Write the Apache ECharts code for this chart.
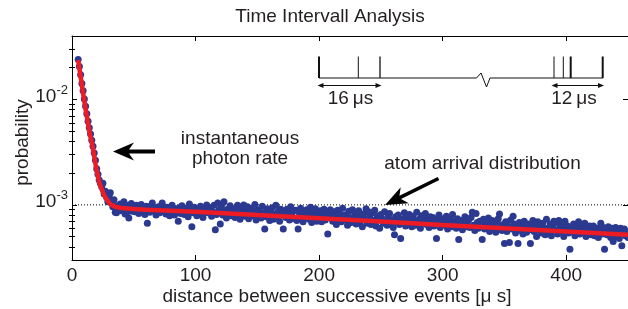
<!DOCTYPE html>
<html><head><meta charset="utf-8">
<script src="https://cdn.jsdelivr.net/npm/echarts@6/dist/echarts.min.js"></script>
<style>html,body{margin:0;padding:0;background:#fff}#c{width:628px;height:309px}</style>
</head><body><div id="c"></div>
<script>
// ---- data ----
const xRange = [0, 450];
const xTickValues = [0, 100, 200, 300, 400];
const yTickValues = [1e-3, 1e-2];
const yMinorTickValues = [4e-4, 5e-4, 6e-4, 7e-4, 8e-4, 9e-4, 2e-3, 3e-3, 4e-3, 5e-3, 6e-3, 7e-3, 8e-3, 9e-3, 2e-2, 3e-2];
const referenceLevel = [1e-3];
const binStartUs = 5;   // first histogram bin (µs); bins are 1 µs wide
const eventProbability = [
  2.40e-2, 2.05e-2, 1.72e-2, 1.42e-2, 1.21e-2, 1.01e-2, 8.6e-3, 7.3e-3, 6.2e-3, 5.4e-3,
  4.7e-3, 4.1e-3, 3.6e-3, 3.1e-3, 2.65e-3, 2.2e-3, 1.95e-3, 1.72e-3, 1.60e-3, 1.49e-3,
  1.60e-3, 1.27e-3, 1.35e-3, 1.18e-3, 1.07e-3, 1.20e-3, 1.30e-3, 1.04e-3, 9.6e-4, 1.12e-3,
  8.5e-4, 8.4e-4, 9.8e-4, 9.0e-4, 1.02e-3, 8.8e-4, 9.4e-4, 1.07e-3, 8.2e-4, 9.9e-4,
  8.6e-4, 7.5e-4, 9.2e-4, 1.03e-3, 8.7e-4, 9.5e-4,
  8.6e-4, 9.9e-4, 9.1e-4, 8.3e-4, 9.6e-4, 1.01e-3, 8.9e-4, 9.3e-4, 8.1e-4, 9.7e-4,
  6.7e-4, 9.2e-4, 8.5e-4, 9.8e-4, 1.04e-3, 8.8e-4, 9.4e-4, 8.0e-4, 9.0e-4, 9.6e-4,
  8.4e-4, 9.7e-4, 1.04e-3, 8.7e-4, 9.1e-4, 8.2e-4, 9.5e-4, 8.9e-4, 7.9e-4, 9.3e-4,
  9.9e-4, 8.5e-4, 8.0e-4, 9.2e-4, 8.7e-4, 7.0e-4, 9.4e-4, 8.3e-4, 9.8e-4, 8.6e-4,
  8.1e-4, 9.3e-4, 8.8e-4, 7.7e-4, 1.02e-3, 9.0e-4, 6.2e-4, 8.4e-4, 9.5e-4, 8.5e-4,
  7.9e-4, 9.1e-4, 8.7e-4, 9.7e-4, 8.2e-4, 7.6e-4, 9.3e-4, 8.9e-4, 1.00e-3, 8.4e-4,
  8.8e-4, 9.4e-4, 7.8e-4, 8.6e-4, 9.9e-4, 5.8e-4, 8.1e-4, 1.04e-3, 9.0e-4, 6.6e-4,
  9.6e-4, 8.0e-4, 1.07e-3, 8.6e-4, 7.5e-4, 9.1e-4, 8.4e-4, 9.8e-4, 7.9e-4, 8.8e-4,
  9.2e-4, 7.6e-4, 8.7e-4, 9.9e-4, 8.1e-4, 7.3e-4, 9.5e-4, 8.5e-4, 1.00e-3, 7.8e-4,
  8.9e-4, 9.6e-4, 7.4e-4, 8.3e-4, 9.3e-4, 7.9e-4, 8.6e-4, 1.01e-3, 7.2e-4, 8.8e-4,
  9.0e-4, 8.0e-4, 7.5e-4, 9.7e-4, 8.4e-4, 5.9e-4, 7.7e-4, 9.2e-4, 8.6e-4, 7.1e-4,
  8.5e-4, 9.4e-4, 7.3e-4, 8.1e-4, 9.9e-4, 7.8e-4, 8.7e-4, 7.0e-4, 9.1e-4, 8.3e-4,
  5.9e-4, 8.6e-4, 7.6e-4, 9.1e-4, 8.2e-4, 7.2e-4, 9.6e-4, 7.9e-4, 8.8e-4, 7.4e-4,
  8.9e-4, 7.1e-4, 5.9e-4, 8.4e-4, 9.3e-4, 7.7e-4, 6.9e-4, 8.6e-4, 7.5e-4, 9.0e-4,
  8.1e-4, 7.3e-4, 9.5e-4, 6.8e-4, 8.5e-4, 7.8e-4, 9.2e-4, 7.0e-4, 8.3e-4, 7.6e-4,
  8.8e-4, 6.9e-4, 7.9e-4, 9.1e-4, 7.2e-4, 8.4e-4, 5.3e-4, 7.6e-4, 9.0e-4, 8.1e-4,
  7.0e-4, 8.6e-4, 7.7e-4, 6.5e-4, 8.9e-4, 7.3e-4, 8.2e-4, 6.9e-4, 9.3e-4, 7.5e-4,
  8.0e-4, 7.2e-4, 6.4e-4, 8.7e-4, 7.6e-4, 6.8e-4, 9.0e-4, 7.4e-4, 8.3e-4, 6.6e-4,
  7.9e-4, 8.8e-4, 6.9e-4, 7.5e-4, 6.2e-4, 8.2e-4, 7.3e-4, 9.2e-4, 6.7e-4, 8.6e-4,
  7.6e-4, 6.5e-4, 8.4e-4, 7.1e-4, 8.9e-4, 6.3e-4, 7.8e-4, 7.2e-4, 6.0e-4, 8.1e-4,
  7.4e-4, 6.7e-4, 8.6e-4, 7.0e-4, 6.4e-4, 7.9e-4, 8.3e-4, 6.6e-4, 7.2e-4, 6.1e-4,
  5.2e-4, 7.7e-4, 6.9e-4, 8.0e-4, 6.5e-4, 4.8e-4, 7.3e-4, 6.8e-4, 8.4e-4, 6.3e-4,
  7.5e-4, 6.6e-4, 8.1e-4, 6.9e-4, 6.2e-4, 7.8e-4, 7.1e-4, 6.4e-4, 8.5e-4, 6.8e-4,
  7.3e-4, 6.0e-4, 7.9e-4, 6.7e-4, 7.5e-4, 8.3e-4, 6.5e-4, 7.0e-4, 6.1e-4, 7.7e-4,
  6.9e-4, 7.6e-4, 6.3e-4, 7.2e-4, 4.8e-4, 6.7e-4, 8.0e-4, 6.1e-4, 7.4e-4, 6.6e-4,
  7.1e-4, 6.4e-4, 7.8e-4, 5.9e-4, 6.8e-4, 7.3e-4, 6.2e-4, 8.1e-4, 6.6e-4, 7.0e-4,
  6.0e-4, 7.4e-4, 4.7e-4, 6.7e-4, 7.1e-4, 5.8e-4, 6.5e-4, 7.7e-4, 6.2e-4, 6.9e-4,
  7.2e-4, 6.1e-4, 7.6e-4, 8.5e-4, 6.4e-4, 5.7e-4, 8.3e-4, 6.8e-4, 6.0e-4, 7.0e-4,
  6.6e-4, 4.7e-4, 7.3e-4, 5.9e-4, 6.9e-4, 6.3e-4, 7.5e-4, 5.6e-4, 6.7e-4, 7.1e-4,
  6.2e-4, 7.0e-4, 5.5e-4, 6.8e-4, 7.4e-4, 8.2e-4, 6.0e-4, 5.7e-4, 6.5e-4, 4.3e-4,
  6.9e-4, 5.6e-4, 6.3e-4, 4.4e-4, 7.2e-4, 5.9e-4, 7.8e-4, 6.6e-4, 5.4e-4, 6.1e-4,
  4.3e-4, 6.8e-4, 5.7e-4, 6.4e-4, 5.3e-4, 7.0e-4, 6.1e-4, 5.5e-4, 6.6e-4, 5.8e-4,
  4.3e-4, 6.5e-4, 7.1e-4, 5.6e-4, 6.2e-4, 5.0e-4, 6.9e-4, 5.8e-4, 6.4e-4, 5.4e-4,
  6.7e-4, 5.9e-4, 5.2e-4, 7.3e-4, 6.0e-4, 5.5e-4, 6.6e-4, 5.1e-4, 6.3e-4, 7.0e-4,
  5.8e-4, 6.8e-4, 5.3e-4, 7.1e-4, 6.1e-4, 5.6e-4, 6.5e-4, 5.0e-4, 7.0e-4, 5.9e-4,
  6.3e-4, 5.4e-4, 3.8e-4, 6.0e-4, 5.7e-4, 6.6e-4, 5.1e-4, 6.2e-4, 5.5e-4, 6.9e-4,
  5.3e-4, 6.1e-4, 5.7e-4, 6.4e-4, 6.7e-4, 5.0e-4, 6.0e-4, 5.6e-4, 6.3e-4, 5.2e-4,
  5.9e-4, 6.3e-4, 5.1e-4, 5.6e-4, 6.0e-4, 4.9e-4, 5.7e-4, 6.7e-4, 5.3e-4, 6.1e-4,
  3.8e-4, 5.8e-4, 5.2e-4, 6.2e-4, 5.5e-4, 4.9e-4, 6.0e-4, 4.5e-4, 5.4e-4, 6.1e-4,
  5.0e-4, 5.7e-4, 4.8e-4, 6.0e-4, 4.1e-4, 5.5e-4, 5.9e-4, 5.1e-4, 5.6e-4, 4.9e-4
];
const fitTimeUs = [5, 6, 7, 8, 9, 10, 11, 12, 13, 14, 15, 16, 17, 18, 19, 20, 22, 24, 26, 28, 30, 32, 35, 40, 50, 60, 80, 100, 150, 200, 250, 300, 350, 400, 450];
const fitProbability = [2.36e-2, 1.96e-2, 1.64e-2, 1.37e-2, 1.14e-2, 9.6e-3, 8.1e-3, 6.9e-3, 5.9e-3, 5.0e-3, 4.4e-3, 3.9e-3, 3.38e-3, 2.9e-3, 2.45e-3, 2.1e-3, 1.65e-3, 1.4e-3, 1.24e-3, 1.13e-3, 1.05e-3, 1.0e-3, 9.6e-4, 9.35e-4, 9.15e-4, 9.0e-4, 8.8e-4, 8.6e-4, 8.0e-4, 7.45e-4, 6.95e-4, 6.45e-4, 6.0e-4, 5.6e-4, 5.2e-4];

// ---- chart ----
const FONT = 'Liberation Sans';
const TXT = '#231f20';
const points = eventProbability.map((p, i) => [binStartUs + i, p]);
const fitLine = fitTimeUs.map((t, i) => [t, fitProbability[i]]);
const refLine = [[xRange[0], referenceLevel[0]], [xRange[1], referenceLevel[0]]];

function arrowPoly(tip, tail, headLen, headHalf, notch, shaftHalf) {
  const dx = tail[0] - tip[0], dy = tail[1] - tip[1];
  const L = Math.hypot(dx, dy), ux = dx / L, uy = dy / L, nx = -uy, ny = ux;
  const P = (d, s) => [tip[0] + ux * d + nx * s, tip[1] + uy * d + ny * s];
  return [tip, P(headLen, headHalf), P(notch, shaftHalf), [tail[0] + nx * shaftHalf, tail[1] + ny * shaftHalf],
          [tail[0] - nx * shaftHalf, tail[1] - ny * shaftHalf], P(notch, -shaftHalf), P(headLen, -headHalf)];
}
function txt(text, x, y, size, extra) {
  return Object.assign({ type: 'text', x: x, y: y, silent: true,
    style: { text: text, fontSize: size, fontFamily: FONT, fill: TXT,
             align: 'center', verticalAlign: 'middle', textAlign: 'center', textVerticalAlign: 'middle' } }, extra || {});
}
function vline(x, w) {
  return { type: 'line', silent: true, shape: { x1: x, y1: 56.5, x2: x, y2: 78 }, style: { stroke: '#111', lineWidth: w } };
}
function dblArrow(x1, x2, y) {
  return [
    { type: 'line', silent: true, shape: { x1: x1 + 4, y1: y, x2: x2 - 4, y2: y }, style: { stroke: '#111', lineWidth: 1 } },
    { type: 'polygon', silent: true, shape: { points: [[x1, y], [x1 + 6, y - 2.5], [x1 + 6, y + 2.5]] }, style: { fill: '#111' } },
    { type: 'polygon', silent: true, shape: { points: [[x2, y], [x2 - 6, y - 2.5], [x2 - 6, y + 2.5]] }, style: { fill: '#111' } }
  ];
}

const axisLineStyle = { color: '#000', width: 1 };
const logCommon = { type: 'log', logBase: 10, min: 3e-4, max: 0.04, splitLine: { show: false }, axisLabel: { show: false } };

const option = {
  animation: false,
  backgroundColor: '#fff',
  grid: { left: 72, right: 0, top: 36, bottom: 49, containLabel: false },
  xAxis: [
    { type: 'value', position: 'bottom', min: xRange[0], max: xRange[1], interval: 100,
      axisLine: { show: true, onZero: false, lineStyle: axisLineStyle },
      axisTick: { show: true, inside: true, length: 5, customValues: xTickValues, lineStyle: axisLineStyle },
      axisLabel: { customValues: xTickValues, margin: 6, fontSize: 19, fontFamily: FONT, color: TXT },
      splitLine: { show: false } },
    { type: 'value', position: 'top', min: xRange[0], max: xRange[1], interval: 100,
      axisLine: { show: true, onZero: false, lineStyle: axisLineStyle },
      axisTick: { show: true, inside: true, length: 5, customValues: xTickValues, lineStyle: axisLineStyle },
      axisLabel: { show: false }, splitLine: { show: false } }
  ],
  yAxis: [
    Object.assign({}, logCommon, { position: 'left',
      axisLine: { show: true, onZero: false, lineStyle: axisLineStyle },
      axisTick: { show: true, inside: true, length: 5, customValues: yTickValues, lineStyle: axisLineStyle },
      axisLabel: { show: true, customValues: yTickValues, margin: 4, padding: [0, 0, 6, 0],
        formatter: v => '{b|10}{s|' + Math.round(Math.log10(v)) + '}',
        rich: { b: { fontSize: 19, fontFamily: FONT, color: TXT, lineHeight: 26 },
                s: { fontSize: 13, fontFamily: FONT, color: TXT, lineHeight: 13, verticalAlign: 'top' } } } }),
    Object.assign({}, logCommon, { position: 'left',
      axisLine: { show: false },
      axisTick: { show: true, inside: true, length: 3, customValues: yMinorTickValues, lineStyle: axisLineStyle } }),
    Object.assign({}, logCommon, { position: 'right',
      axisLine: { show: true, onZero: false, lineStyle: axisLineStyle },
      axisTick: { show: true, inside: true, length: 5, customValues: yTickValues, lineStyle: axisLineStyle } }),
    Object.assign({}, logCommon, { position: 'right',
      axisLine: { show: false },
      axisTick: { show: true, inside: true, length: 3, customValues: yMinorTickValues, lineStyle: axisLineStyle } })
  ],
  series: [
    { type: 'line', data: refLine, xAxisIndex: 0, yAxisIndex: 0, z: 1, silent: true,
      showSymbol: false, symbol: 'none',
      lineStyle: { color: '#000', width: 1, type: [1, 2] } },
    { type: 'scatter', data: points, xAxisIndex: 0, yAxisIndex: 0, z: 2, silent: true,
      symbol: 'circle', symbolSize: 7, itemStyle: { color: '#2b3990', opacity: 1 } },
    { type: 'line', data: fitLine, xAxisIndex: 0, yAxisIndex: 0, z: 3, silent: true,
      showSymbol: false, symbol: 'none', smooth: false,
      lineStyle: { color: '#ed1c24', width: 4.5 } }
  ],
  graphic: [
    txt('Time Intervall Analysis', 330, 16.5, 19),
    txt('probability', 23, 142.5, 19, { rotation: Math.PI / 2 }),
    txt('distance between successive events [\u03bc s]', 337, 297, 19),
    txt('instantaneous', 240, 138.5, 19),
    txt('photon rate', 240, 158.5, 19),
    txt('atom arrival distribution', 482.5, 163.5, 19),
    { type: 'polygon', silent: true, shape: { points: arrowPoly([113, 151.5], [155, 151.5], 21, 9, 16, 2) }, style: { fill: '#000' } },
    { type: 'polygon', silent: true, shape: { points: arrowPoly([385, 205], [438.5, 178.5], 22, 9, 17, 1.8) }, style: { fill: '#000' } },
    { type: 'polyline', silent: true, shape: { points: [[319, 78], [476.5, 78], [481, 73], [486.5, 87], [490, 78], [603, 78]] }, style: { stroke: '#111', lineWidth: 1, fill: null } },
    vline(319, 2), vline(358.3, 1), vline(380, 1.3), vline(554, 1), vline(563.3, 1), vline(570.7, 2), vline(602.7, 2),
    ...dblArrow(317.5, 381.5, 85.5),
    ...dblArrow(551.5, 604, 85.5),
    txt('16\u2009\u03bcs', 350.5, 98.5, 19),
    txt('12\u2009\u03bcs', 574, 98.5, 19)
  ]
};
const chart = echarts.init(document.getElementById('c'), null, { renderer: 'canvas' });
chart.setOption(option);
</script></body></html>
